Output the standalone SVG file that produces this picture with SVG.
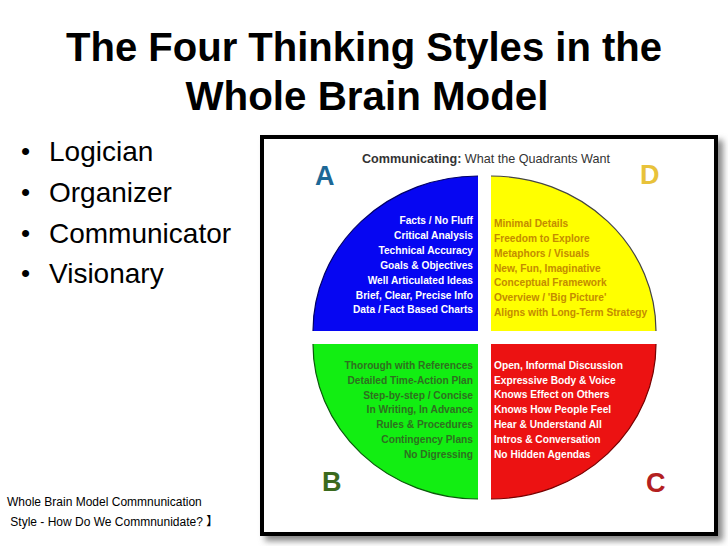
<svg xmlns="http://www.w3.org/2000/svg" width="728" height="546" viewBox="0 0 728 546">
<defs>
<filter id="blur" x="-5%" y="-5%" width="110%" height="110%"><feGaussianBlur stdDeviation="3"/></filter>
</defs>
<style>
.title{font-family:"Liberation Sans",Arial,sans-serif;font-weight:bold;font-size:40px;fill:#000;text-anchor:middle}
.bul{font-family:"Liberation Sans",Arial,sans-serif;font-size:28px;fill:#000}
.dot{font-family:"Liberation Sans",Arial,sans-serif;font-size:26px;fill:#000}
.cap{font-family:"Liberation Sans",Arial,"Noto Sans CJK SC",sans-serif;font-size:12px;fill:#000}
.q{font-family:"Liberation Sans",Arial,sans-serif;font-weight:bold;font-size:10.2px}
.r{text-anchor:end}
.hdr{font-family:"Liberation Sans",Arial,sans-serif;font-size:12.6px;fill:#333}
.let{font-family:"Liberation Sans",Arial,sans-serif;font-size:27px;font-weight:bold}
.arc{fill:none;stroke-width:1.2}
</style>
<rect width="728" height="546" fill="#fff"/>
<g id="title">
<text class="title" x="364" y="61" textLength="596" lengthAdjust="spacingAndGlyphs">The Four Thinking Styles in the</text>
<text class="title" x="367" y="110" textLength="363" lengthAdjust="spacingAndGlyphs">Whole Brain Model</text>
</g>
<g id="bullets">
<text class="dot" x="21" y="160">•</text><text class="bul" x="49" y="161">Logician</text>
<text class="dot" x="21" y="201">•</text><text class="bul" x="49" y="202">Organizer</text>
<text class="dot" x="21" y="242">•</text><text class="bul" x="49" y="243">Communicator</text>
<text class="dot" x="21" y="282">•</text><text class="bul" x="49" y="283">Visionary</text>
</g>
<g id="caption">
<text class="cap" x="7" y="506">Whole Brain Model Commnunication</text>
<text class="cap" x="7" y="526" xml:space="preserve"> Style - How Do We Commnunidate? 】</text>
</g>
<g id="panel">
<rect x="265" y="140" width="458" height="401" fill="#888" filter="url(#blur)"/>
<rect x="262" y="137" width="454" height="397" fill="#fff" stroke="#000" stroke-width="4"/>
<text class="hdr" x="362" y="163"><tspan font-weight="bold">Communicating:</tspan> What the Quadrants Want</text>
</g>
<g id="quadA">
<path d="M478,331 L313,331 A165,155 0 0 1 478,176 Z" fill="#0606f2"/>
<path class="arc" d="M313,331 A165,155 0 0 1 478,176" stroke="#000066"/>
<text class="let" x="315" y="185" fill="#1d6896">A</text>
<g class="q r" fill="#fff">
<text x="473" y="224">Facts / No Fluff</text>
<text x="473" y="239">Critical Analysis</text>
<text x="473" y="254">Technical Accuracy</text>
<text x="473" y="269">Goals &amp; Objectives</text>
<text x="473" y="284">Well Articulated Ideas</text>
<text x="473" y="299">Brief, Clear, Precise Info</text>
<text x="473" y="313">Data / Fact Based Charts</text>
</g>
</g>
<g id="quadD">
<path d="M491,331 L656,331 A165,155 0 0 0 491,176 Z" fill="#ffff00"/>
<path class="arc" d="M656,331 A165,155 0 0 0 491,176" stroke="#444"/>
<text class="let" x="640" y="184" fill="#e8c23a">D</text>
<g class="q" fill="#c48c00">
<text x="494" y="227">Minimal Details</text>
<text x="494" y="242">Freedom to Explore</text>
<text x="494" y="257">Metaphors / Visuals</text>
<text x="494" y="272">New, Fun, Imaginative</text>
<text x="494" y="286">Conceptual Framework</text>
<text x="494" y="301">Overview / 'Big Picture'</text>
<text x="494" y="316">Aligns with Long-Term Strategy</text>
</g>
</g>
<g id="quadB">
<path d="M478,344 L313,344 A165,155 0 0 0 478,499 Z" fill="#12ee12"/>
<path class="arc" d="M313,344 A165,155 0 0 0 478,499" stroke="#0a5a0a"/>
<text class="let" x="322" y="491" fill="#3b6a1d">B</text>
<g class="q r" fill="#2e7020">
<text x="473" y="369">Thorough with References</text>
<text x="473" y="384">Detailed Time-Action Plan</text>
<text x="473" y="399">Step-by-step / Concise</text>
<text x="473" y="413">In Writing, In Advance</text>
<text x="473" y="428">Rules &amp; Procedures</text>
<text x="473" y="443">Contingency Plans</text>
<text x="473" y="458">No Digressing</text>
</g>
</g>
<g id="quadC">
<path d="M491,344 L656,344 A165,155 0 0 1 491,499 Z" fill="#ec1212"/>
<path class="arc" d="M656,344 A165,155 0 0 1 491,499" stroke="#700"/>
<text class="let" x="646" y="492" fill="#b3201f">C</text>
<g class="q" fill="#fff">
<text x="494" y="369">Open, Informal Discussion</text>
<text x="494" y="384">Expressive Body &amp; Voice</text>
<text x="494" y="398">Knows Effect on Others</text>
<text x="494" y="413">Knows How People Feel</text>
<text x="494" y="428">Hear &amp; Understand All</text>
<text x="494" y="443">Intros &amp; Conversation</text>
<text x="494" y="458">No Hidden Agendas</text>
</g>
</g>
<g id="connectors"/>
</svg>
